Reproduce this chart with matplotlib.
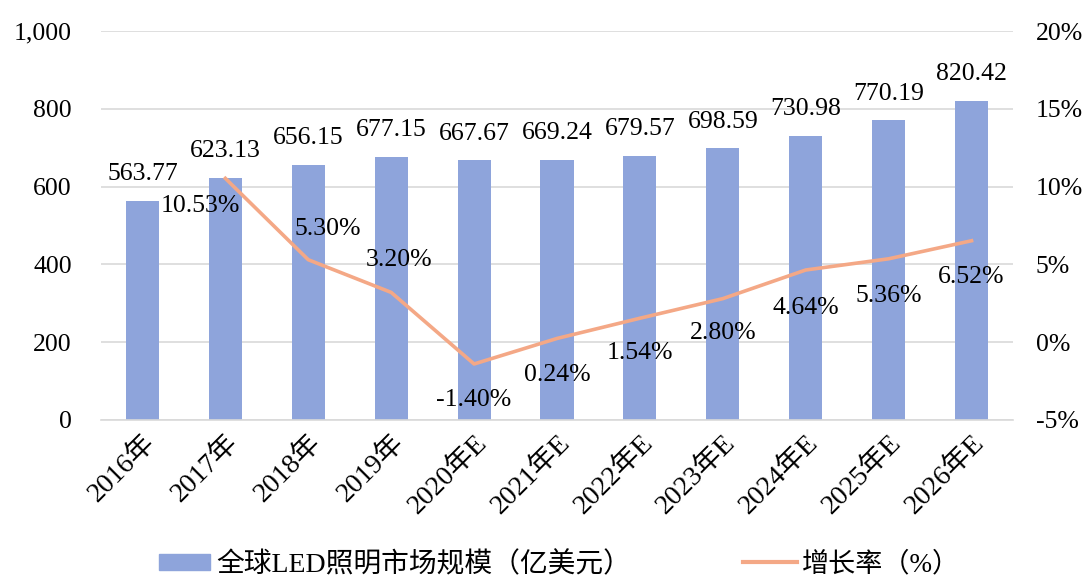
import matplotlib
matplotlib.use("Agg")
import matplotlib.pyplot as plt
from matplotlib.ticker import FuncFormatter
from matplotlib.patches import Patch
from matplotlib.lines import Line2D

years = ["2016年", "2017年", "2018年", "2019年", "2020年E", "2021年E",
         "2022年E", "2023年E", "2024年E", "2025年E", "2026年E"]
market = [563.77, 623.13, 656.15, 677.15, 667.67, 669.24,
          679.57, 698.59, 730.98, 770.19, 820.42]
growth = [None, 10.53, 5.30, 3.20, -1.40, 0.24, 1.54, 2.80, 4.64, 5.36, 6.52]

bar_color = "#8EA4DB"
line_color = "#F4A886"
fs = 18.5
fam = ["Liberation Serif", "Noto Sans CJK SC"]
plt.rcParams["font.family"] = fam

fig = plt.figure(figsize=(10.88, 5.81), dpi=100)
ax = fig.add_axes([101 / 1088, 1 - 420 / 581, 912 / 1088, 389 / 581])
ax2 = ax.twinx()

x = list(range(len(years)))
ax.bar(x, market, width=0.4, color=bar_color, zorder=2)
ax.set_xlim(-0.5, len(years) - 0.5)
ax.set_ylim(0, 1000)
ax.set_yticks(range(0, 1001, 200))
ax.yaxis.set_major_formatter(FuncFormatter(lambda v, p: f"{v:,.0f}"))
ax.grid(axis="y", color="#D9D9D9", lw=1.2, zorder=0)
ax.set_axisbelow(True)
for s in ["top", "right", "left"]:
    ax.spines[s].set_visible(False)
ax.spines["bottom"].set_color("#D9D9D9")
ax.spines["bottom"].set_linewidth(1.2)
ax.tick_params(axis="both", length=0, labelsize=fs)
ax.tick_params(axis="y", pad=21)
ax.set_xticks(x)
ax.set_xticklabels(years, rotation=45, ha="right", rotation_mode="anchor", fontsize=20)
ax.tick_params(axis="x", pad=7)

for xi, v in zip(x, market):
    ax.annotate(f"{v:.2f}", (xi, v), xytext=(0, 19), textcoords="offset points",
                ha="center", va="center", fontsize=fs)

gx = [xi for xi, g in zip(x, growth) if g is not None]
gy = [g for g in growth if g is not None]
ax2.plot(gx, gy, color=line_color, lw=2.6, zorder=3)
ax2.set_ylim(-5, 20)
ax2.set_yticks(range(-5, 21, 5))
ax2.yaxis.set_major_formatter(FuncFormatter(lambda v, p: f"{v:.0f}%"))
ax2.tick_params(axis="y", length=0, labelsize=fs, pad=16.5)
for s in ax2.spines.values():
    s.set_visible(False)

# label offsets in points (dx, dy)
offsets = [(-18, -20), (14, 22), (6, 23), (0, -26), (0, -26), (0, -25),
           (0, -25), (0, -27), (0, -27), (0, -26)]
for xi, g, (dx, dy) in zip(gx, gy, offsets):
    ax2.annotate(f"{g:.2f}%", (xi, g), xytext=(dx, dy), textcoords="offset points",
                 ha="center", va="center", fontsize=fs)

fig.legend(handles=[Patch(color=bar_color, label="全球LED照明市场规模（亿美元）")],
           loc="center left", bbox_to_anchor=(159 / 1088, 1 - 565 / 581),
           frameon=False, fontsize=20, handlelength=1.84, handleheight=0.5,
           handletextpad=0.22, borderpad=0, borderaxespad=0)
fig.legend(handles=[Line2D([], [], color=line_color, lw=3, label="增长率（%）")],
           loc="center left", bbox_to_anchor=(743 / 1088, 1 - 565 / 581),
           frameon=False, fontsize=19.5, handlelength=2.0,
           handletextpad=0.19, borderpad=0, borderaxespad=0)

fig.savefig("out.png", dpi=100)
